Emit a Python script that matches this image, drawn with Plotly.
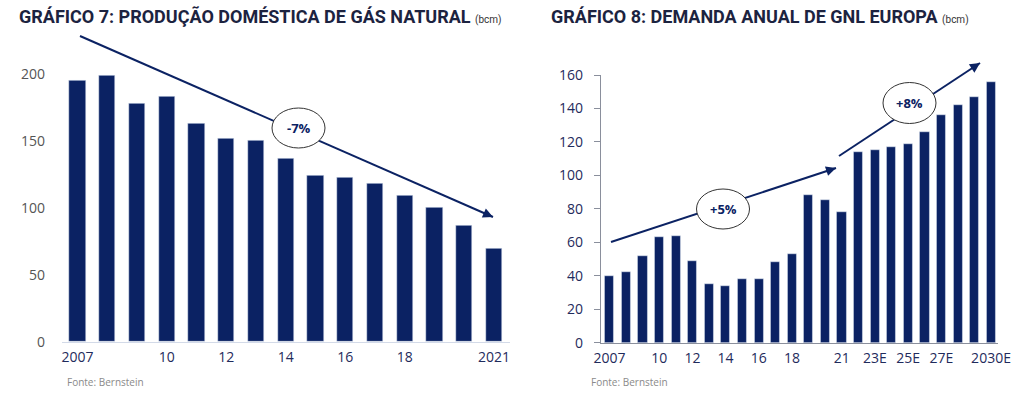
import plotly.graph_objects as go

W, H = 1024, 396

# ---- data ----
prod_years = list(range(2007, 2022))
prod_values = [195, 199, 178, 183, 163, 152, 150, 137, 124, 123, 118, 109, 100, 87, 70]
prod_tickvals = [2007, 2010, 2012, 2014, 2016, 2018, 2021]
prod_ticktext = ["2007", "10", "12", "14", "16", "18", "2021"]

lng_years = list(range(2007, 2031))
lng_values = [40, 42, 52, 63, 64, 49, 35, 34, 38, 38, 48, 53, 88, 85, 78,
              114, 115, 117, 119, 126, 136, 142, 147, 156]
lng_tickvals = [2007, 2010, 2012, 2014, 2016, 2018, 2021, 2023, 2025, 2027, 2030]
lng_ticktext = ["2007", "10", "12", "14", "16", "18", "21", "23E", "25E", "27E", "2030E"]

title_left = "GRÁFICO 7: PRODUÇÃO DOMÉSTICA DE GÁS NATURAL"
title_right = "GRÁFICO 8: DEMANDA ANUAL DE GNL EUROPA"
unit = "(bcm)"
source = "Fonte: Bernstein"
cagr_left = "-7%"
cagr_right_1 = "+5%"
cagr_right_2 = "+8%"

NAVY = "#0b2263"
DARK = "#1c2340"
TICKNAVY = "#1f2b5c"
GRAY = "#555555"

def px(x):
    return x / W

def py(y):
    return 1 - y / H

fig = go.Figure()
fig.add_trace(go.Bar(x=prod_years, y=prod_values, marker_color=NAVY, width=0.55,
                     xaxis="x", yaxis="y", showlegend=False))
fig.add_trace(go.Bar(x=lng_years, y=lng_values, marker_color=NAVY, width=0.55,
                     xaxis="x2", yaxis="y2", showlegend=False))

fig.update_layout(
    width=W, height=H, autosize=False,
    margin=dict(l=0, r=0, t=0, b=0, pad=0, autoexpand=False),
    plot_bgcolor="white", paper_bgcolor="white",
    bargap=0,
    xaxis=dict(domain=[px(62), px(510)], range=[2006.479, 2021.538],
               tickvals=prod_tickvals, ticktext=prod_ticktext,
               tickfont=dict(family="Open Sans", size=14, color=TICKNAVY),
               showgrid=False, zeroline=False, showline=True, linecolor="#d3dae8",
               linewidth=1, ticks="", ticklabelstandoff=2, anchor="y", automargin=False),
    yaxis=dict(domain=[py(342), py(60.6)], range=[0, 210], tickvals=[0, 50, 100, 150, 200],
               tickfont=dict(family="Open Sans", size=14, color=GRAY),
               showgrid=False, zeroline=False, showline=False,
               ticks="", ticklabelstandoff=16, anchor="x", automargin=False),
    xaxis2=dict(domain=[px(600.7), px(998)], range=[2006.47, 2030.42],
                tickvals=lng_tickvals, ticktext=lng_ticktext,
                tickfont=dict(family="Open Sans", size=14, color=TICKNAVY),
                showgrid=False, zeroline=False, showline=True, linecolor="#8a8f9c",
                linewidth=1, ticks="", ticklabelstandoff=2, anchor="y2", automargin=False),
    yaxis2=dict(domain=[py(342.7), py(75)], range=[0, 160],
                tickvals=[0, 20, 40, 60, 80, 100, 120, 140, 160],
                tickfont=dict(family="Open Sans", size=14, color=TICKNAVY),
                showgrid=False, zeroline=False, showline=True, linecolor="#8a8f9c",
                linewidth=1, ticks="outside", ticklen=6, tickcolor="#8a8f9c",
                ticklabelstandoff=8, anchor="x2", automargin=False),
)

shapes = []
annots = []

def arrow(x0, y0, x1, y1):
    shapes.append(dict(type="line", xref="paper", yref="paper",
                       x0=px(x0), y0=py(y0), x1=px(x1), y1=py(y1),
                       line=dict(color=NAVY, width=2)))
    dx, dy = x1 - x0, y1 - y0
    L = (dx * dx + dy * dy) ** 0.5
    annots.append(dict(xref="paper", yref="paper", x=px(x1), y=py(y1),
                       ax=-dx / L * 12, ay=-dy / L * 12, showarrow=True,
                       arrowhead=2, arrowsize=1, arrowwidth=2, arrowcolor=NAVY, text=""))

def bubble(cx, cy, w, h, label):
    shapes.append(dict(type="circle", xref="paper", yref="paper",
                       x0=px(cx - w / 2), x1=px(cx + w / 2),
                       y0=py(cy + h / 2), y1=py(cy - h / 2),
                       fillcolor="white", line=dict(color="#333333", width=1)))
    annots.append(dict(xref="paper", yref="paper", x=px(cx), y=py(cy), text="<b>" + label + "</b>",
                       showarrow=False, font=dict(family="Open Sans", size=13, color=NAVY),
                       xanchor="center", yanchor="middle"))

arrow(80, 36, 493, 217)
bubble(298.5, 128, 53, 40, cagr_left)
arrow(611, 242, 836, 168)
bubble(723, 209, 53, 40, cagr_right_1)
arrow(839, 156, 980, 63)
bubble(909.5, 103, 53, 41, cagr_right_2)

def title(x, text):
    annots.append(dict(xref="paper", yref="paper", x=px(x), y=py(16),
                       text="<b>" + text + "</b> <span style='font-size:10px;color:#333'>" + unit + "</span>",
                       showarrow=False, xanchor="left", yanchor="middle",
                       font=dict(family="Roboto", size=18, color=DARK)))

title(17, title_left)
title(549, title_right)

for x in (65, 589):
    annots.append(dict(xref="paper", yref="paper", x=px(x), y=py(382), text=source,
                       showarrow=False, xanchor="left", yanchor="middle",
                       font=dict(family="Open Sans", size=10, color="#8a8a8a")))

fig.update_layout(shapes=shapes, annotations=annots)
fig.write_html("out.html",
               config={"displayModeBar": False},
               post_script="document.body.style.margin='0';document.body.style.overflow='hidden';")
